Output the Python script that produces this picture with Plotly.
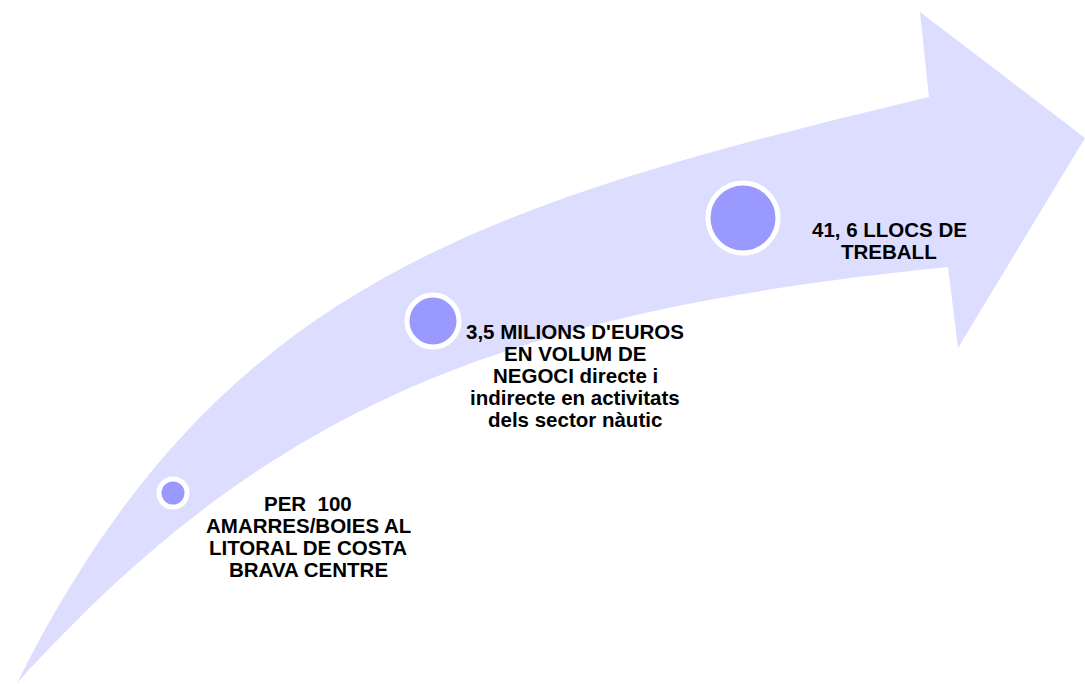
import plotly.graph_objects as go

W, H = 1085, 684

# Diagram content
labels = [
    ["PER  100", "AMARRES/BOIES AL", "LITORAL DE COSTA", "BRAVA CENTRE"],
    ["3,5 MILIONS D'EUROS", "EN VOLUM DE", "NEGOCI directe i",
     "indirecte en activitats", "dels sector nàutic"],
    ["41, 6 LLOCS DE", "TREBALL"],
]
step_x = [173, 433, 743]
step_y = [493, 321, 218]
step_size = [28, 52, 70]
label_x = [308, 575, 889]
label_y = [536, 375, 240]
LINE_H = 22

# Arrow outline geometry (pixel space): cubic Bezier edges + straight arrow head
tail = (17, 683)
upper_ctrl = [(217, 283), (479, 205), (929, 97)]      # tail -> upper notch
head = [(920, 12), (1085, 138), (958, 348), (948, 267)]
lower_ctrl = [(498, 312), (267, 408), (17, 683)]      # lower notch -> tail


def pt(p):
    return f"{p[0]},{p[1]}"


path = (f"M {pt(tail)} C {pt(upper_ctrl[0])} {pt(upper_ctrl[1])} {pt(upper_ctrl[2])} "
        + " ".join(f"L {pt(p)}" for p in head)
        + f" C {pt(lower_ctrl[0])} {pt(lower_ctrl[1])} {pt(lower_ctrl[2])} Z")

fig = go.Figure()

fig.add_trace(go.Scatter(
    x=step_x, y=step_y, mode="markers",
    marker=dict(size=step_size, color="#9999FF", opacity=1,
                line=dict(color="white", width=5)),
    hoverinfo="skip", showlegend=False,
))

fig.add_shape(type="path", path=path, xref="x", yref="y",
              fillcolor="#DDDDFF", line=dict(width=0), layer="below")

for lines, cx, cy in zip(labels, label_x, label_y):
    n = len(lines)
    for i, line in enumerate(lines):
        fig.add_annotation(x=cx, y=cy + (i - (n - 1) / 2) * LINE_H, xref="x", yref="y",
                           text=f"<b>{line}</b>", showarrow=False, align="center",
                           font=dict(family="Liberation Sans, Arial", size=20.5,
                                     color="black"))

fig.update_layout(
    width=W, height=H,
    margin=dict(l=0, r=0, t=0, b=0),
    paper_bgcolor="white", plot_bgcolor="white",
    xaxis=dict(range=[0, W], visible=False, fixedrange=True),
    yaxis=dict(range=[H, 0], visible=False, fixedrange=True),
    showlegend=False,
)

fig.write_html("out.html", config={"displayModeBar": False},
               post_script="document.body.style.margin='0';document.body.style.overflow='hidden';")
